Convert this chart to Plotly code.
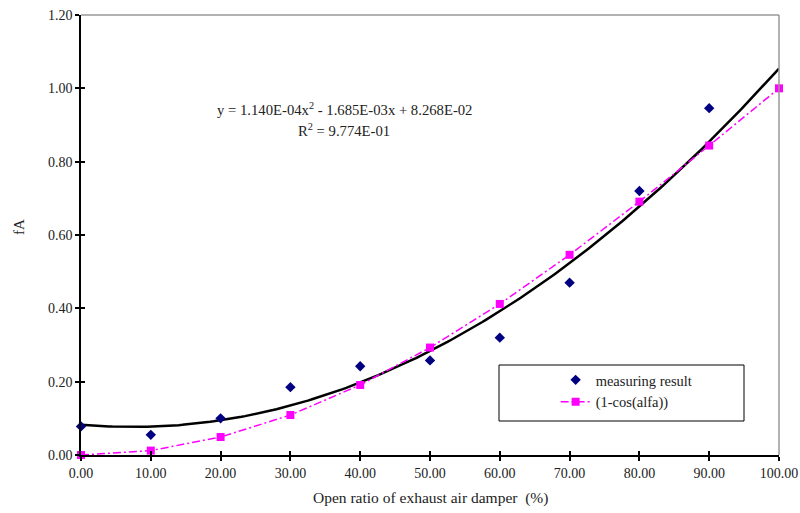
import numpy as np
import plotly.graph_objects as go

# ---- data ----
open_ratio = [0, 10, 20, 30, 40, 50, 60, 70, 80, 90, 100]
measured_x = [0, 10, 20, 30, 40, 50, 60, 70, 80, 90]
measured_fA = [0.078, 0.055, 0.100, 0.185, 0.242, 0.258, 0.320, 0.470, 0.720, 0.946]
cos_model = [0.000, 0.012, 0.049, 0.109, 0.191, 0.293, 0.412, 0.546, 0.691, 0.844, 1.000]
# polynomial trendline coefficients as printed on the chart (a2, a1, a0)
trend_coef = [1.140e-04, -1.685e-03, 8.268e-02]
x_ticks = [0, 10, 20, 30, 40, 50, 60, 70, 80, 90, 100]
y_ticks = [0.0, 0.2, 0.4, 0.6, 0.8, 1.0, 1.2]

FONT = "Liberation Serif, Times New Roman, serif"
TXT = "#222"

trend_x = np.linspace(0, 100, 201)
trend_y = np.polyval(trend_coef, trend_x)

fig = go.Figure()
fig.add_trace(go.Scatter(x=trend_x, y=trend_y, mode="lines",
                         line=dict(color="black", width=2.5),
                         showlegend=False, hoverinfo="skip"))
fig.add_trace(go.Scatter(x=open_ratio, y=cos_model, mode="lines+markers",
                         name="(1-cos(alfa))", legendgroup="b", legendrank=2,
                         cliponaxis=False,
                         line=dict(color="#FF00FF", width=1.5, dash="8px,3px,2px,3px"),
                         marker=dict(symbol="square", size=8, color="#FF00FF")))
fig.add_trace(go.Scatter(x=measured_x, y=measured_fA, mode="markers",
                         name="measuring result", legendgroup="a", legendrank=1,
                         cliponaxis=False,
                         marker=dict(symbol="diamond", size=8, color="#000080")))

axis_common = dict(showgrid=False, zeroline=False, showline=True, linecolor="black",
                   linewidth=1.5, ticks="outside", ticklen=4, tickwidth=1.5,
                   tickcolor="black", automargin=False, ticklabeloverflow="allow",
                   tickfont=dict(family=FONT, size=14, color=TXT))

fig.update_layout(
    width=800, height=513,
    margin=dict(l=81, r=21, t=15, b=58),
    plot_bgcolor="white", paper_bgcolor="white",
    font=dict(family=FONT, size=14, color=TXT),
    xaxis=dict(range=[0, 100], tickvals=x_ticks,
               ticktext=[f"{v:.2f}" for v in x_ticks], **axis_common),
    yaxis=dict(range=[0, 1.2], tickvals=y_ticks,
               ticktext=[f"{v:.2f}" for v in y_ticks], **axis_common),
    xaxis2=dict(range=[0, 100], overlaying="x", tickvals=x_ticks, showticklabels=False,
                ticks="inside", ticklen=4, tickwidth=1.5, tickcolor="black",
                showgrid=False, zeroline=False, showline=False, anchor="y2", side="bottom"),
    yaxis2=dict(range=[0, 1.2], overlaying="y", tickvals=y_ticks, showticklabels=False,
                ticks="inside", ticklen=4, tickwidth=1.5, tickcolor="black",
                showgrid=False, zeroline=False, showline=False, anchor="x2", side="left"),
    legend=dict(x=0.68, y=0.207, xanchor="left", yanchor="top",
                bgcolor="rgba(0,0,0,0)", borderwidth=0,
                font=dict(family=FONT, size=14.5, color=TXT),
                tracegroupgap=6, traceorder="normal"),
    shapes=[
        dict(type="line", xref="paper", yref="paper", x0=0, x1=1, y0=1, y1=1,
             line=dict(color="#999", width=1.5)),
        dict(type="line", xref="paper", yref="paper", x0=1, x1=1, y0=0, y1=1,
             line=dict(color="#999", width=1.5)),
        dict(type="rect", xref="paper", yref="paper",
             x0=(499 - 81) / 698, x1=(744 - 81) / 698,
             y0=(455 - 421) / 440, y1=(455 - 365) / 440,
             line=dict(color="black", width=1), fillcolor="white", layer="below"),
    ],
    annotations=[
        dict(x=37.7, y=0.944, xref="x", yref="y", showarrow=False,
             text="y = 1.140E-04x<sup>2</sup> - 1.685E-03x + 8.268E-02",
             font=dict(family=FONT, size=14.7, color=TXT)),
        dict(x=37.7, y=0.886, xref="x", yref="y", showarrow=False,
             text="R<sup>2</sup> = 9.774E-01",
             font=dict(family=FONT, size=14.7, color=TXT)),
        dict(x=0.5, y=(455 - 498) / 440, xref="paper", yref="paper", showarrow=False,
             xanchor="center", yanchor="middle",
             text="Open ratio of exhaust air damper\u00a0 (%)",
             font=dict(family=FONT, size=15.5, color=TXT)),
        dict(x=(19 - 81) / 698, y=(455 - 227) / 440, xref="paper", yref="paper",
             showarrow=False, xanchor="center", yanchor="middle", textangle=-90,
             text="fA", font=dict(family=FONT, size=15, color=TXT)),
    ],
)
# dummy invisible trace so the overlay axes are drawn
fig.add_trace(go.Scatter(x=[None], y=[None], xaxis="x2", yaxis="y2",
                         showlegend=False, hoverinfo="skip"))

# remove the default page margin so the 800x513 figure fills the window exactly
fig.write_html("out.html", config={"displayModeBar": False},
               post_script="document.body.style.margin='0';")
